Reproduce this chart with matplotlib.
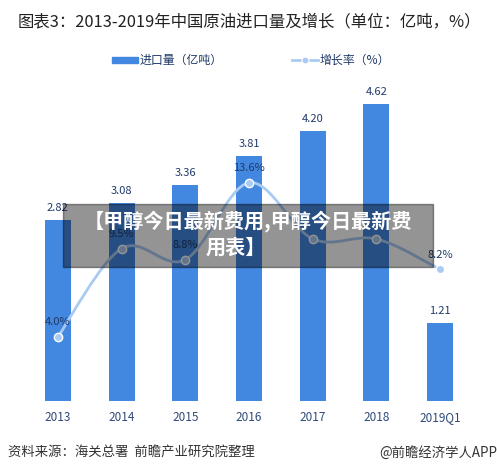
import matplotlib
matplotlib.use("Agg")
import matplotlib.pyplot as plt
from matplotlib.path import Path
from matplotlib.patches import PathPatch, Rectangle
import numpy as np

plt.rcParams['font.family'] = ['Noto Sans CJK SC', 'DejaVu Sans']

categories = ['2013', '2014', '2015', '2016', '2017', '2018', '2019Q1']
imports = [2.82, 3.08, 3.36, 3.81, 4.20, 4.62, 1.21]
growth = [4.0, 9.5, 8.8, 13.6, 10.1, 10.1, 8.2]
# labels shown in the reference (2017/2018 labels are hidden beneath the banner)
growth_labels = ['4.0%', '9.5%', '8.8%', '13.6%', '', '', '8.2%']

bar_color = '#4287e0'
line_color = '#a9cbf3'
label_color = '#1f3a68'

fig = plt.figure(figsize=(4.97, 4.72), dpi=100)
ax = fig.add_axes([26/497, 71/472, 446/497, 321/472])
x = np.arange(len(categories))
ax.bar(x, imports, width=0.41, color=bar_color, zorder=2)
ax.set_xlim(-0.5, len(categories) - 0.5)
ax.set_ylim(0, 5)
for xi, v in zip(x, imports):
    ax.annotate(f'{v:.2f}', (xi, v), xytext=(0, 5), textcoords='offset points',
                ha='center', va='bottom', fontsize=8, color=label_color, zorder=5)
for s in ax.spines.values():
    s.set_visible(False)
ax.set_yticks([])
ax.set_xticks(x)
ax.set_xticklabels(categories, fontsize=8.5, color='#2f4a78')
ax.tick_params(axis='x', length=0, pad=7)

ax2 = ax.twinx()
ax2.set_ylim(0, 20)
ax2.set_yticks([])
for s in ax2.spines.values():
    s.set_visible(False)

# smooth curve through the points (Catmull-Rom -> cubic Bezier)
pts = np.column_stack([x, growth]).astype(float)
verts = [tuple(pts[0])]
codes = [Path.MOVETO]
t = 0.5
for i in range(len(pts) - 1):
    p0 = pts[i - 1] if i > 0 else pts[i]
    p1 = pts[i]
    p2 = pts[i + 1]
    p3 = pts[i + 2] if i + 2 < len(pts) else pts[i + 1]
    c1 = p1 + (p2 - p0) * t / 3
    c2 = p2 - (p3 - p1) * t / 3
    verts += [tuple(c1), tuple(c2), tuple(p2)]
    codes += [Path.CURVE4] * 3
ax2.add_patch(PathPatch(Path(verts, codes), fill=False, edgecolor=line_color, lw=2, zorder=3))
ax2.plot(x, growth, 'o', color=line_color, markersize=6, markeredgecolor='white',
         markeredgewidth=1, zorder=4)
for xi, v, lab in zip(x, growth, growth_labels):
    if lab:
        ax2.annotate(lab, (xi, v), xytext=(0, 7), textcoords='offset points',
                     ha='center', va='bottom', fontsize=8, color=label_color, zorder=5)

# title
fig.text(18/497, 1 - 22/472, '图表3：2013-2019年中国原油进口量及增长（单位：亿吨，%）',
         fontsize=11.8, color='#222222', va='center', ha='left')

# legend
fig.patches.append(Rectangle((112/497, 1 - 63/472), 26/497, 6/472,
                             transform=fig.transFigure, color=bar_color))
fig.text(140/497, 1 - 60/472, '进口量（亿吨）', fontsize=8.6, color=label_color,
         va='center', ha='left')
fig.lines.append(plt.Line2D([292/497, 318/497], [1 - 60/472, 1 - 60/472],
                            transform=fig.transFigure, color=line_color, lw=2))
fig.lines.append(plt.Line2D([305/497], [1 - 60/472], transform=fig.transFigure,
                            marker='o', color=line_color, markersize=5,
                            markeredgecolor='white', markeredgewidth=0.8))
fig.text(320/497, 1 - 60/472, '增长率（%）', fontsize=8.6, color=label_color,
         va='center', ha='left')

# footer
fig.text(8/497, 1 - 453/472, '资料来源：海关总署  前瞻产业研究院整理', fontsize=9.6,
         style='italic', color='#333333', va='center', ha='left')
fig.text(497/497, 1 - 453/472, '@前瞻经济学人APP', fontsize=9.6, color='#333333',
         va='center', ha='right')

# overlay banner
fig.patches.append(Rectangle((63/497, 1 - 267/472), 370/497, 63/472,
                             transform=fig.transFigure, color='black', alpha=0.42,
                             zorder=10))
fig.text(248/497, 1 - 221/472, '【甲醇今日最新费用,甲醇今日最新费', fontsize=14.5,
         fontweight='bold', color='white', ha='center', va='center', zorder=11)
fig.text(236/497, 1 - 247/472, '用表】', fontsize=14.5,
         fontweight='bold', color='white', ha='center', va='center', zorder=11)

fig.savefig('out.png', dpi=100)
